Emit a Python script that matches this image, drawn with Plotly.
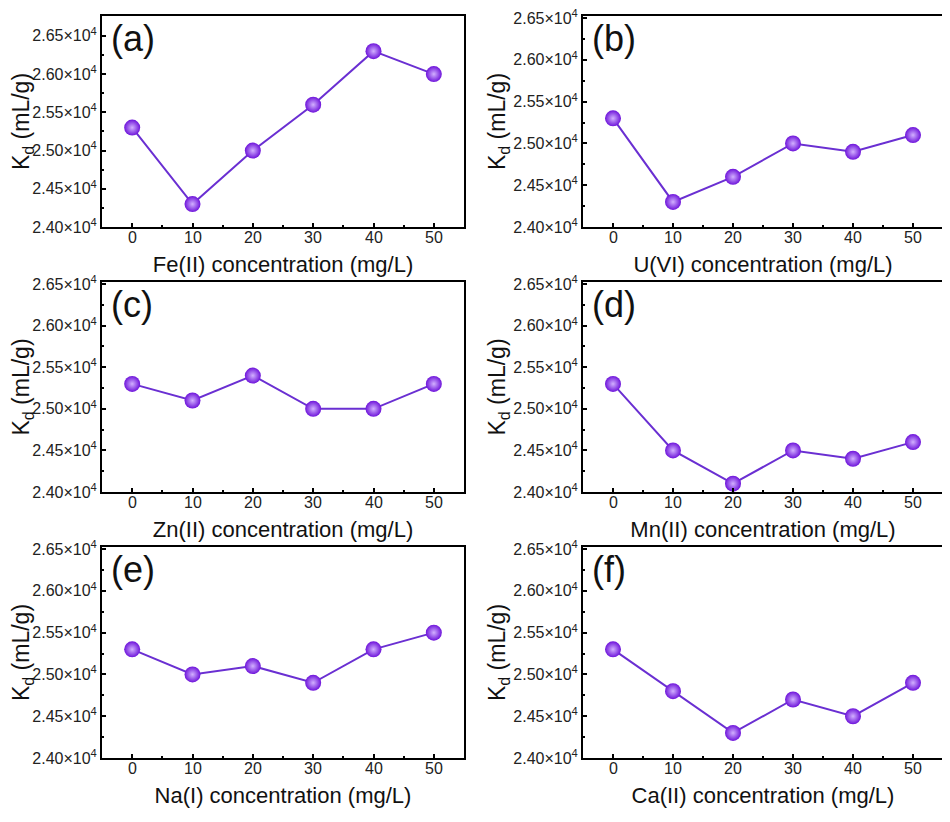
import plotly.graph_objects as go
from plotly.subplots import make_subplots

conc = [0, 10, 20, 30, 40, 50]

kd_fe = [25300, 24300, 25000, 25600, 26300, 26000]
kd_u = [25300, 24300, 24600, 25000, 24900, 25100]
kd_zn = [25300, 25100, 25400, 25000, 25000, 25300]
kd_mn = [25300, 24500, 24100, 24500, 24400, 24600]
kd_na = [25300, 25000, 25100, 24900, 25300, 25500]
kd_ca = [25300, 24800, 24300, 24700, 24500, 24900]

err = [80, 80, 80, 80, 80, 80]

panel_labels = ["(a)", "(b)", "(c)", "(d)", "(e)", "(f)"]
x_titles = ["Fe(II) concentration (mg/L)", "U(VI) concentration (mg/L)",
            "Zn(II) concentration (mg/L)", "Mn(II) concentration (mg/L)",
            "Na(I) concentration (mg/L)", "Ca(II) concentration (mg/L)"]
y_title = "K<sub>d</sub> (mL/g)"
y_tickvals = [24000, 24500, 25000, 25500, 26000, 26500]
y_ticktext = ["2.40×10<sup>4</sup>", "2.45×10<sup>4</sup>", "2.50×10<sup>4</sup>",
              "2.55×10<sup>4</sup>", "2.60×10<sup>4</sup>", "2.65×10<sup>4</sup>"]
x_ticks = [0, 10, 20, 30, 40, 50]
x_ticktext = ["0", "10", "20", "30", "40", "50"]

series = [kd_fe, kd_u, kd_zn, kd_mn, kd_na, kd_ca]
y_tops = [26760, 26525, 26525, 26525, 26525, 26525]

fig = make_subplots(rows=3, cols=2)

W, H, OFF = 950, 822, 8  # page body margin offset
x_domains = [[(102 - OFF) / W, (464 - OFF) / W], [(583 - OFF) / W, (943 - OFF) / W]]
y_px = [(16, 227), (282, 492), (547, 758)]
y_domains = [[1 - (b - OFF) / H, 1 - (t - OFF) / H] for t, b in y_px]

font_fam = "Liberation Sans, Arial"
line_color = "#6A2FD2"
for i, ys in enumerate(series):
    r, c = i // 2 + 1, i % 2 + 1
    fig.add_trace(go.Scatter(
        x=conc, y=ys, mode="lines+markers",
        line=dict(color=line_color, width=2),
        marker=dict(size=16, color="#6E14DA",
                    gradient=dict(type="radial", color="#D2B0FF"),
                    line=dict(width=0)),
        error_y=dict(type="data", array=err, color="#D8B8FF", thickness=1.2, width=3),
        showlegend=False), row=r, col=c)
    fig.update_xaxes(domain=x_domains[c - 1], range=[-5, 55], automargin=False,
                     tickmode="array", tickvals=x_ticks, showticklabels=False,
                     ticks="inside", ticklen=4, tickwidth=1.5, tickcolor="black",
                     minor=dict(ticks="inside", ticklen=2, tickwidth=1.5, tickcolor="black",
                                tickmode="linear", tick0=5, dtick=10),
                     showline=True, linecolor="black", linewidth=2, mirror=True,
                     showgrid=False, zeroline=False,
                     title=dict(text=x_titles[i], standoff=29,
                                font=dict(family=font_fam, size=22, color="#111")),
                     row=r, col=c)
    fig.update_yaxes(domain=y_domains[r - 1], range=[24000, y_tops[i]], automargin=False,
                     tickmode="array", tickvals=y_tickvals, ticktext=y_ticktext,
                     ticklabeloverflow="allow",
                     ticks="inside", ticklen=4, tickwidth=1.5, tickcolor="black",
                     minor=dict(ticks="inside", ticklen=2, tickwidth=1.5, tickcolor="black",
                                tickmode="linear", tick0=24250, dtick=500),
                     showline=True, linecolor="black", linewidth=2, mirror=True,
                     showgrid=False, zeroline=False,
                     tickfont=dict(family=font_fam, size=16, color="#222"),
                     title=dict(text=y_title, standoff=0,
                                font=dict(family=font_fam, size=23, color="#111")),
                     row=r, col=c)
    xa = "x" if i == 0 else f"x{i + 1}"
    ya = "y" if i == 0 else f"y{i + 1}"
    for tv, tt in zip(x_ticks, x_ticktext):
        fig.add_annotation(text=tt, xref=xa, yref=f"{ya} domain", x=tv, y=0,
                           xanchor="center", yanchor="top", yshift=0, showarrow=False,
                           font=dict(family=font_fam, size=16, color="#222"))
    fig.add_annotation(text=panel_labels[i], xref=f"{xa} domain", yref=f"{ya} domain",
                       x=0.02, y=1.0, xanchor="left", yanchor="top", showarrow=False,
                       font=dict(family=font_fam, size=36, color="#111"))

fig.update_layout(width=W, height=H, margin=dict(l=0, r=0, t=0, b=0),
                  plot_bgcolor="white", paper_bgcolor="white")

fig.write_html("out.html")
